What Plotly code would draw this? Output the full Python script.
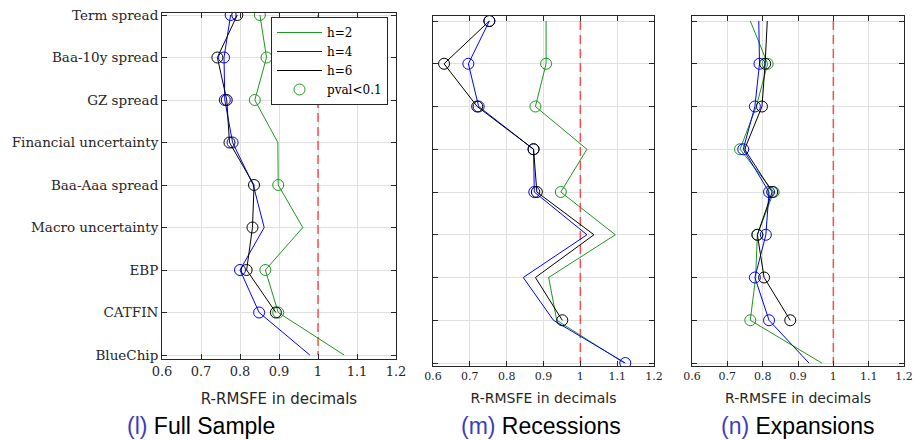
import plotly.graph_objects as go

categories = ["Term spread", "Baa-10y spread", "GZ spread", "Financial uncertainty",
              "Baa-Aaa spread", "Macro uncertainty", "EBP", "CATFIN", "BlueChip"]
x_ticks = [0.6, 0.7, 0.8, 0.9, 1.0, 1.1, 1.2]
x_tick_labels = ["0.6", "0.7", "0.8", "0.9", "1", "1.1", "1.2"]

# Full sample
full_h2 = [0.851, 0.868, 0.838, 0.897, 0.898, 0.961, 0.865, 0.898, 1.067]
full_h4 = [0.776, 0.759, 0.761, 0.781, 0.834, 0.862, 0.800, 0.849, 0.979]
full_h6 = [0.793, 0.742, 0.766, 0.773, 0.836, 0.832, 0.817, 0.892, None]
full_sig_h2 = [1, 1, 1, 0, 1, 0, 1, 1, 0]
full_sig_h4 = [1, 1, 1, 1, 0, 0, 1, 1, 0]
full_sig_h6 = [1, 1, 1, 1, 1, 1, 1, 1, 0]

# Recessions
rec_h2 = [0.907, 0.907, 0.878, 1.018, 0.947, 1.095, 0.914, 0.936, 1.119]
rec_h4 = [0.753, 0.696, 0.724, 0.873, 0.875, 1.018, 0.845, 0.927, 1.122]
rec_h6 = [0.753, 0.630, 0.720, 0.873, 0.882, 1.037, 0.878, 0.951, None]
rec_sig_h2 = [0, 1, 1, 0, 1, 0, 0, 0, 0]
rec_sig_h4 = [1, 1, 1, 1, 1, 0, 0, 0, 1]
rec_sig_h6 = [1, 1, 1, 1, 1, 0, 0, 1, 0]

# Expansions
exp_h2 = [0.765, 0.814, 0.782, 0.736, 0.831, 0.785, 0.780, 0.765, 0.967]
exp_h4 = [0.789, 0.791, 0.778, 0.745, 0.818, 0.809, 0.778, 0.818, 0.931]
exp_h6 = [0.813, 0.807, 0.798, 0.749, 0.827, 0.785, 0.804, 0.878, None]
exp_sig_h2 = [0, 1, 0, 1, 1, 1, 0, 1, 0]
exp_sig_h4 = [0, 1, 1, 1, 1, 1, 1, 1, 0]
exp_sig_h6 = [0, 1, 1, 0, 1, 1, 1, 1, 0]

captions = ["(l)", "(m)", "(n)"]
caption_titles = ["Full Sample", "Recessions", "Expansions"]

GREEN = "rgb(30,150,30)"
BLUE = "rgb(0,0,255)"
BLACK = "rgb(0,0,0)"
FRAME = "#262626"
GRID = "#e0e0e0"
SERIF = "DejaVu Serif"
SANS = "DejaVu Sans"
CAP_SANS = "Liberation Sans"

# page body has an 8px margin; figure is placed at (8, 8)
OFF = 8
W, H = 922 - OFF, 440 - OFF


def px(x):
    return (x - OFF) / W


def py(y):
    return 1 - (y - OFF) / H


ypos = list(range(1, len(categories) + 1))

fig = go.Figure()

panels = [
    (full_h2, full_h4, full_h6, full_sig_h2, full_sig_h4, full_sig_h6),
    (rec_h2, rec_h4, rec_h6, rec_sig_h2, rec_sig_h4, rec_sig_h6),
    (exp_h2, exp_h4, exp_h6, exp_sig_h2, exp_sig_h4, exp_sig_h6),
]
names = ["h=2", "h=4", "h=6"]
colors = [GREEN, BLUE, BLACK]

for p, (a2, a4, a6, s2, s4, s6) in enumerate(panels):
    xa = "x" if p == 0 else f"x{p+1}"
    ya = "y" if p == 0 else f"y{p+1}"
    fig.add_trace(go.Scatter(x=[1, 1], y=[1, 9], mode="lines",
                             line=dict(color="rgba(255,60,60,0.9)", width=1.5, dash="9px,5px"),
                             showlegend=False, hoverinfo="skip", xaxis=xa, yaxis=ya))
    for i, (vals, sig, nm, col) in enumerate(zip((a2, a4, a6), (s2, s4, s6), names, colors)):
        fig.add_trace(go.Scatter(x=vals, y=ypos, mode="lines", name=nm,
                                 line=dict(color=col, width=1),
                                 connectgaps=False, showlegend=(p == 0),
                                 legendrank=i + 1,
                                 xaxis=xa, yaxis=ya))
        sx = [v for v, s in zip(vals, sig) if s and v is not None]
        sy = [y for v, s, y in zip(vals, sig, ypos) if s and v is not None]
        fig.add_trace(go.Scatter(x=sx, y=sy, mode="markers",
                                 marker=dict(symbol="circle-open", size=11, color=col,
                                             line=dict(width=1, color=col)),
                                 showlegend=False, xaxis=xa, yaxis=ya))

fig.add_trace(go.Scatter(x=[None], y=[None], mode="markers", name="pval<0.1",
                         marker=dict(symbol="circle-open", size=11, color=GREEN,
                                     line=dict(width=1, color=GREEN)),
                         legendrank=4, xaxis="x", yaxis="y"))

x_domains = [(px(162), px(396)), (px(433), px(654)), (px(692), px(904))]
y_domains = [(py(359), py(13)), (py(366), py(16)), (py(366), py(16))]
y_ranges = [[9.094, 0.953], [9.07, 0.883], [9.07, 0.883]]
tick_sizes = [13, 11, 11]
label_sizes = [15, 14, 14]
title_standoff = [15, 10, 10]

layout = dict(
    width=W, height=H,
    margin=dict(l=0, r=0, t=0, b=0, autoexpand=False),
    paper_bgcolor="white", plot_bgcolor="white",
    showlegend=True,
    legend=dict(x=px(271), y=py(17), xanchor="left", yanchor="top",
                bgcolor="white", bordercolor=FRAME, borderwidth=1,
                font=dict(family=SERIF, size=12, color="black"),
                tracegroupgap=0, itemwidth=45),
)

for p in range(3):
    xk = "xaxis" if p == 0 else f"xaxis{p+1}"
    yk = "yaxis" if p == 0 else f"yaxis{p+1}"
    layout[xk] = dict(
        domain=list(x_domains[p]), range=[0.6, 1.2], anchor="y" if p == 0 else f"y{p+1}",
        automargin=False, ticklabeloverflow="allow",
        tickvals=x_ticks, ticktext=x_tick_labels,
        showgrid=True, gridcolor=GRID, gridwidth=1, zeroline=False,
        showline=True, linecolor=FRAME, linewidth=1, mirror="ticks",
        ticks="inside", ticklen=5, tickcolor=FRAME,
        tickfont=dict(family=SERIF, size=tick_sizes[p], color="#262626"),
        title=dict(text="R-RMSFE in decimals", standoff=title_standoff[p],
                   font=dict(family=SANS, size=label_sizes[p], color="#262626")),
    )
    layout[yk] = dict(
        domain=list(y_domains[p]), range=y_ranges[p], anchor="x" if p == 0 else f"x{p+1}",
        automargin=False, ticklabeloverflow="allow",
        tickvals=ypos, ticktext=categories if p == 0 else [""] * len(categories),
        showticklabels=(p == 0),
        showgrid=True, gridcolor=GRID, gridwidth=1, zeroline=False,
        showline=True, linecolor=FRAME, linewidth=1, mirror="ticks",
        ticks="inside", ticklen=5, tickcolor=FRAME,
        tickfont=dict(family=SERIF, size=13.5, color="#262626"),
    )

fig.update_layout(**layout)

caption_x = [201, 541, 797]
for cx, c, t in zip(caption_x, captions, caption_titles):
    fig.add_annotation(x=px(cx), y=py(426), xref="paper", yref="paper",
                       xanchor="center", yanchor="middle", showarrow=False,
                       text=f"<span style='color:#3c3cc0'>{c}</span> {t}",
                       font=dict(family=CAP_SANS, size=23, color="black"))

fig.write_html("out.html")
